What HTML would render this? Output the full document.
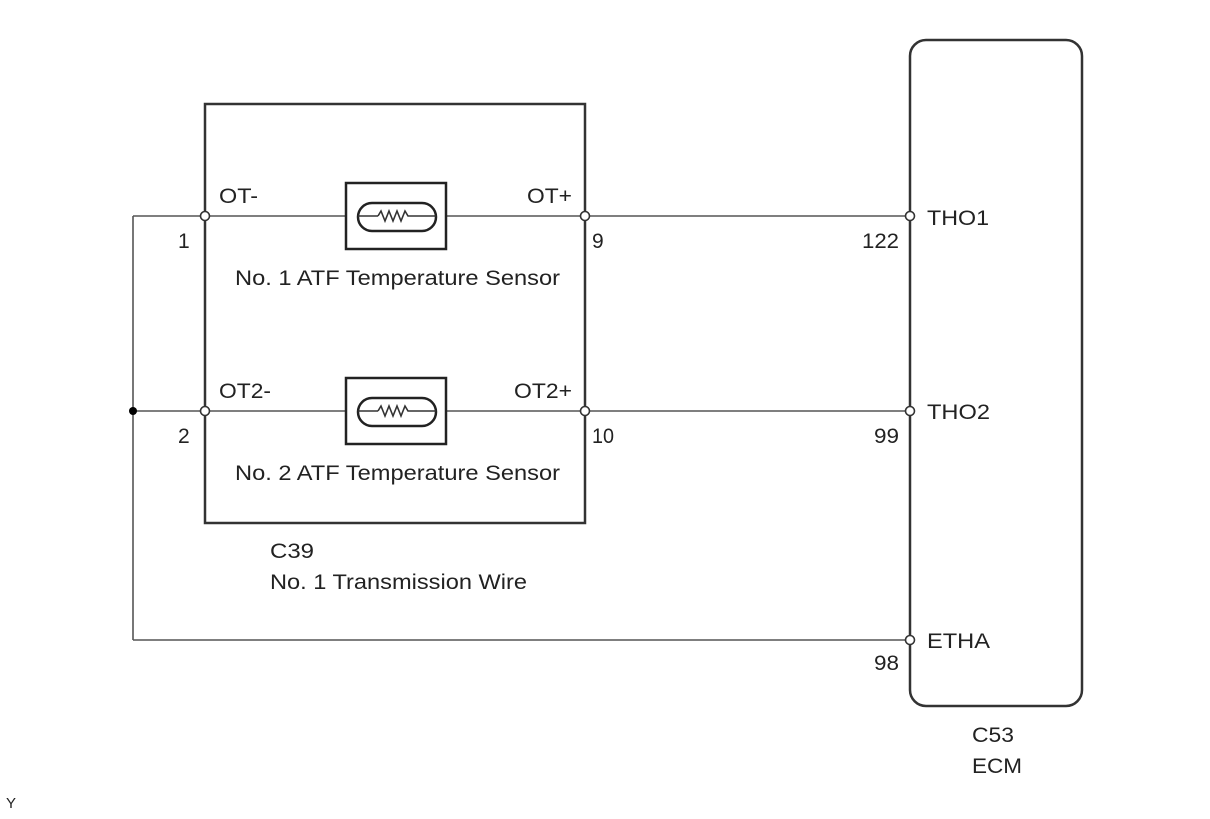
<!DOCTYPE html>
<html><head><meta charset="utf-8"><style>
html,body{margin:0;padding:0;background:#fff;}
svg text{font-family:"Liberation Sans",Arial,sans-serif;fill:#222;font-size:21px;}
</style></head><body>
<svg width="1210" height="814" viewBox="0 0 1210 814" xmlns="http://www.w3.org/2000/svg">
<g fill="none" stroke="#555" stroke-width="1.6">
<line x1="133" y1="216" x2="910" y2="216"/>
<line x1="133" y1="411" x2="910" y2="411"/>
<line x1="133" y1="640" x2="910" y2="640"/>
<line x1="133" y1="216" x2="133" y2="640"/>
</g>
<rect x="205" y="104" width="380" height="419" fill="none" stroke="#333" stroke-width="2.5"/>
<rect x="910" y="40" width="172" height="666" rx="16" fill="none" stroke="#333" stroke-width="2.5"/>
<g fill="#fff" stroke="#222" stroke-width="2.5">
<rect x="346" y="183" width="100" height="66"/>
<rect x="358" y="203" width="78" height="28" rx="14"/>
<rect x="346" y="378" width="100" height="66"/>
<rect x="358" y="398" width="78" height="28" rx="14"/>
</g>
<g fill="none" stroke="#333" stroke-width="1.6">
<line x1="358" y1="216" x2="378" y2="216"/><polyline points="378,216 381,211 385,221 389,211 393,221 397,211 401,221 405,211 408,216 436,216"/>
<line x1="358" y1="411" x2="378" y2="411"/><polyline points="378,411 381,406 385,416 389,406 393,416 397,406 401,416 405,406 408,411 436,411"/>
</g>
<g fill="#fff" stroke="#333" stroke-width="1.6">
<circle cx="205" cy="216" r="4.5"/><circle cx="585" cy="216" r="4.5"/><circle cx="910" cy="216" r="4.5"/>
<circle cx="205" cy="411" r="4.5"/><circle cx="585" cy="411" r="4.5"/><circle cx="910" cy="411" r="4.5"/>
<circle cx="910" cy="640" r="4.5"/>
</g>
<circle cx="133" cy="411" r="4" fill="#000"/>
<g lengthAdjust="spacingAndGlyphs">
<text x="219" y="203" textLength="39" lengthAdjust="spacingAndGlyphs">OT-</text>
<text x="527" y="203" textLength="45" lengthAdjust="spacingAndGlyphs">OT+</text>
<text x="219" y="398" textLength="52" lengthAdjust="spacingAndGlyphs">OT2-</text>
<text x="514" y="398" textLength="58" lengthAdjust="spacingAndGlyphs">OT2+</text>
<text x="178" y="248">1</text>
<text x="178" y="443">2</text>
<text x="592" y="248">9</text>
<text x="592" y="443" textLength="22" lengthAdjust="spacingAndGlyphs">10</text>
<text x="235" y="285" textLength="325" lengthAdjust="spacingAndGlyphs">No. 1 ATF Temperature Sensor</text>
<text x="235" y="480" textLength="325" lengthAdjust="spacingAndGlyphs">No. 2 ATF Temperature Sensor</text>
<text x="270" y="558" textLength="44" lengthAdjust="spacingAndGlyphs">C39</text>
<text x="270" y="589" textLength="257" lengthAdjust="spacingAndGlyphs">No. 1 Transmission Wire</text>
<text x="862" y="248" textLength="37" lengthAdjust="spacingAndGlyphs">122</text>
<text x="874" y="443" textLength="25" lengthAdjust="spacingAndGlyphs">99</text>
<text x="874" y="670" textLength="25" lengthAdjust="spacingAndGlyphs">98</text>
<text x="927" y="225" textLength="62" lengthAdjust="spacingAndGlyphs">THO1</text>
<text x="927" y="419" textLength="63" lengthAdjust="spacingAndGlyphs">THO2</text>
<text x="927" y="648" textLength="63" lengthAdjust="spacingAndGlyphs">ETHA</text>
<text x="972" y="742" textLength="42" lengthAdjust="spacingAndGlyphs">C53</text>
<text x="972" y="773" textLength="50" lengthAdjust="spacingAndGlyphs">ECM</text>
</g>
<text x="6" y="808" style="font-size:15px">Y</text>
</svg>
</body></html>
